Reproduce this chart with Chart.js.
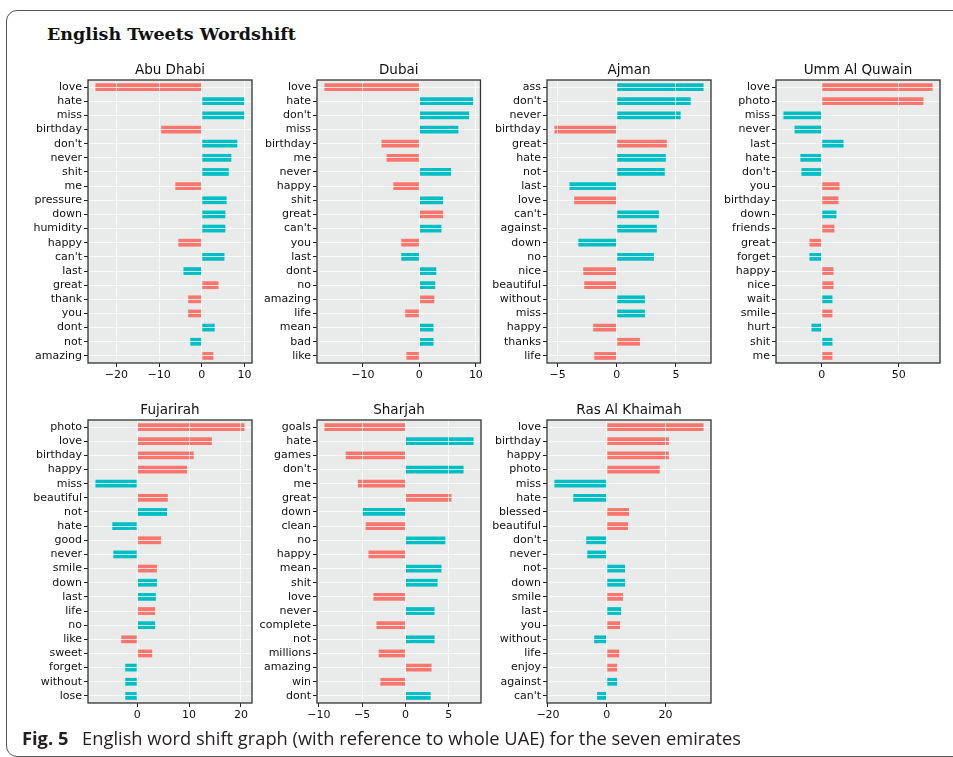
<!DOCTYPE html>
<html>
<head>
<meta charset="utf-8">
<script src="https://cdn.jsdelivr.net/npm/chart.js@4.4.0/dist/chart.umd.min.js"></script>
<style>
  body { margin: 0; width: 953px; height: 757px; background: #fff; position: relative; overflow: hidden; }
  #frame { position: absolute; left: 6px; top: 10px; width: 1000px; height: 745px; border: 1.5px solid #555; border-radius: 11px; }
  #heading { position: absolute; left: 47px; top: 26px; font: bold 17.5px "DejaVu Serif"; line-height: 1; color: #111; white-space: nowrap; }
  #caption { position: absolute; left: 22px; top: 728.5px; font: 18.3px "Open Sans"; line-height: 1; color: #231f20; white-space: nowrap; }
  #caption b { margin-right: 9px; }
  canvas { position: absolute; }
  #c1 { left: 8px; top: 50px; }
  #c2 { left: 237px; top: 50px; }
  #c3 { left: 467px; top: 50px; }
  #c4 { left: 696px; top: 50px; }
  #c5 { left: 8px; top: 390px; }
  #c6 { left: 237px; top: 390px; }
  #c7 { left: 467px; top: 390px; }
</style>
</head>
<body>
<div id="frame"></div>
<div id="heading">English Tweets Wordshift</div>
<canvas id="c1" width="248" height="338"></canvas>
<canvas id="c2" width="248" height="338"></canvas>
<canvas id="c3" width="248" height="338"></canvas>
<canvas id="c4" width="248" height="338"></canvas>
<canvas id="c5" width="248" height="338"></canvas>
<canvas id="c6" width="248" height="338"></canvas>
<canvas id="c7" width="248" height="338"></canvas>
<div id="caption"><b>Fig. 5</b> English word shift graph (with reference to whole UAE) for the seven emirates</div>
<script>
// word contributions per emirate; pos = 1 for positive words (red), 0 for negative (teal)
const abuDhabiWords = ['love', 'hate', 'miss', 'birthday', "don't", 'never', 'shit', 'me', 'pressure', 'down', 'humidity', 'happy', "can't", 'last', 'great', 'thank', 'you', 'dont', 'not', 'amazing'];
const abuDhabiShift = [-24.9, 10.0, 10.0, -9.5, 8.3, 6.9, 6.3, -6.2, 5.8, 5.5, 5.5, -5.5, 5.3, -4.3, 3.9, -3.2, -3.2, 3.0, -2.7, 2.7];
const abuDhabiPos = [1, 0, 0, 1, 0, 0, 0, 1, 0, 0, 0, 1, 0, 0, 1, 1, 1, 0, 0, 1];
const abuDhabiTicks = [-20, -10, 0, 10];

const dubaiWords = ['love', 'hate', "don't", 'miss', 'birthday', 'me', 'never', 'happy', 'shit', 'great', "can't", 'you', 'last', 'dont', 'no', 'amazing', 'life', 'mean', 'bad', 'like'];
const dubaiShift = [-16.8, 9.5, 8.8, 6.9, -6.7, -5.8, 5.6, -4.6, 4.2, 4.2, 3.9, -3.2, -3.2, 3.0, 2.8, 2.65, -2.5, 2.5, 2.5, -2.3];
const dubaiPos = [1, 0, 0, 0, 1, 1, 0, 1, 0, 1, 0, 1, 0, 0, 0, 1, 1, 0, 0, 1];
const dubaiTicks = [-10, 0, 10];

const ajmanWords = ['ass', "don't", 'never', 'birthday', 'great', 'hate', 'not', 'last', 'love', "can't", 'against', 'down', 'no', 'nice', 'beautiful', 'without', 'miss', 'happy', 'thanks', 'life'];
const ajmanShift = [7.34, 6.25, 5.4, -5.27, 4.23, 4.15, 4.06, -4.0, -3.6, 3.56, 3.39, -3.25, 3.14, -2.83, -2.75, 2.38, 2.38, -1.99, 1.96, -1.9];
const ajmanPos = [0, 0, 0, 1, 1, 0, 0, 0, 1, 0, 0, 0, 0, 1, 1, 0, 0, 1, 1, 1];
const ajmanTicks = [-5, 0, 5];

const ummAlQuwainWords = ['love', 'photo', 'miss', 'never', 'last', 'hate', "don't", 'you', 'birthday', 'down', 'friends', 'great', 'forget', 'happy', 'nice', 'wait', 'smile', 'hurt', 'shit', 'me'];
const ummAlQuwainShift = [71.9, 66.0, -24.9, -17.7, 14.1, -13.9, -13.2, 11.5, 10.8, 9.5, 8.2, -8.0, -8.0, 7.6, 7.6, 6.9, 6.9, -6.7, 6.9, 6.9];
const ummAlQuwainPos = [1, 1, 0, 0, 0, 0, 0, 1, 1, 0, 1, 1, 0, 1, 1, 0, 1, 0, 0, 1];
const ummAlQuwainTicks = [0, 50];

const fujairahWords = ['photo', 'love', 'birthday', 'happy', 'miss', 'beautiful', 'not', 'hate', 'good', 'never', 'smile', 'down', 'last', 'life', 'no', 'like', 'sweet', 'forget', 'without', 'lose'];
const fujairahShift = [20.7, 14.4, 10.9, 9.6, -8.05, 5.9, 5.75, -4.8, 4.6, -4.6, 3.8, 3.8, 3.6, 3.45, 3.45, -3.07, 2.9, -2.3, -2.3, -2.3];
const fujairahPos = [1, 1, 1, 1, 0, 1, 0, 0, 1, 0, 1, 0, 0, 1, 0, 1, 1, 0, 0, 0];
const fujairahTicks = [0, 10, 20];

const sharjahWords = ['goals', 'hate', 'games', "don't", 'me', 'great', 'down', 'clean', 'no', 'happy', 'mean', 'shit', 'love', 'never', 'complete', 'not', 'millions', 'amazing', 'win', 'dont'];
const sharjahShift = [-9.35, 7.85, -6.9, 6.7, -5.5, 5.3, -4.96, -4.6, 4.6, -4.27, 4.15, 3.7, -3.7, 3.35, -3.35, 3.35, -3.1, 3.0, -2.9, 2.9];
const sharjahPos = [1, 0, 1, 0, 1, 1, 0, 1, 0, 1, 0, 0, 1, 0, 1, 0, 1, 1, 1, 0];
const sharjahTicks = [-10, -5, 0, 5];

const rasAlKhaimahWords = ['love', 'birthday', 'happy', 'photo', 'miss', 'hate', 'blessed', 'beautiful', "don't", 'never', 'not', 'down', 'smile', 'last', 'you', 'without', 'life', 'enjoy', 'against', "can't"];
const rasAlKhaimahShift = [32.9, 21.1, 21.1, 18.0, -17.8, -11.4, 7.55, 7.2, -7.0, -6.65, 6.2, 6.2, 5.5, 4.85, 4.5, -4.3, 4.2, 3.5, 3.5, -3.3];
const rasAlKhaimahPos = [1, 1, 1, 1, 0, 0, 1, 1, 0, 0, 0, 0, 1, 0, 1, 0, 1, 1, 0, 0];
const rasAlKhaimahTicks = [-20, 0, 20];

const RED = '#F8766D';
const TEAL = '#00BFC4';

// grey panel behind the bars and a dark frame round the plot area
const panelPlugin = {
  id: 'panel',
  beforeDraw(chart) {
    const a = chart.chartArea;
    const ctx = chart.ctx;
    ctx.save();
    ctx.fillStyle = '#E9EBEB';
    ctx.fillRect(a.left, a.top, a.right - a.left, a.bottom - a.top);
    ctx.restore();
  },
  afterDraw(chart) {
    const a = chart.chartArea;
    const ctx = chart.ctx;
    ctx.save();
    ctx.strokeStyle = '#333';
    ctx.lineWidth = 1.3;
    ctx.strokeRect(a.left, a.top, a.right - a.left, a.bottom - a.top);
    ctx.restore();
  }
};

function minusSign(v) {
  return v < 0 ? '\u2212' + Math.abs(v) : String(v);
}

function drawPanel(canvasId, name, words, shift, pos, ticks) {
  // autoscale like matplotlib: include the bar base and pad 5% each side
  const lo = Math.min(0, ...shift);
  const hi = Math.max(0, ...shift);
  const pad = (hi - lo) * 0.05;
  const tickFont = { family: 'DejaVu Sans', size: 11 };
  // grid sits above the bars (z > 0), so white lines run through them
  const grid = {
    z: 1,
    color: 'rgba(255,255,255,0.75)',
    lineWidth: 1,
    tickColor: '#222',
    tickLength: 4
  };
  return new Chart(document.getElementById(canvasId), {
    type: 'bar',
    data: {
      labels: words,
      datasets: [{
        data: shift,
        backgroundColor: pos.map(p => p ? RED : TEAL),
        borderWidth: 0,
        barPercentage: 0.55,
        categoryPercentage: 1
      }]
    },
    options: {
      indexAxis: 'y',
      responsive: false,
      animation: false,
      devicePixelRatio: 1,
      layout: { padding: { left: 0, right: 4, top: 0, bottom: 0 } },
      scales: {
        x: {
          type: 'linear',
          min: lo - pad,
          max: hi + pad,
          grid: grid,
          border: { display: false },
          afterBuildTicks: axis => { axis.ticks = ticks.map(v => ({ value: v })); },
          afterFit: axis => { axis.height = 25; },
          ticks: {
            font: tickFont,
            color: '#111',
            padding: 2,
            maxRotation: 0,
            autoSkip: false,
            callback: v => minusSign(v)
          }
        },
        y: {
          type: 'category',
          offset: true,
          grid: Object.assign({}, grid, { offset: false }),
          border: { display: false },
          afterFit: axis => { axis.width = 80; },
          ticks: {
            font: tickFont,
            color: '#111',
            padding: 2,
            autoSkip: false
          }
        }
      },
      plugins: {
        legend: { display: false },
        tooltip: { enabled: false },
        title: {
          display: true,
          fullSize: false,
          text: name,
          color: '#111',
          font: { family: 'DejaVu Sans', size: 13.5, weight: 'normal', lineHeight: 1 },
          padding: { top: 13.75, bottom: 2.75 }
        }
      }
    },
    plugins: [panelPlugin]
  });
}

drawPanel('c1', 'Abu Dhabi', abuDhabiWords, abuDhabiShift, abuDhabiPos, abuDhabiTicks);
drawPanel('c2', 'Dubai', dubaiWords, dubaiShift, dubaiPos, dubaiTicks);
drawPanel('c3', 'Ajman', ajmanWords, ajmanShift, ajmanPos, ajmanTicks);
drawPanel('c4', 'Umm Al Quwain', ummAlQuwainWords, ummAlQuwainShift, ummAlQuwainPos, ummAlQuwainTicks);
drawPanel('c5', 'Fujarirah', fujairahWords, fujairahShift, fujairahPos, fujairahTicks);
drawPanel('c6', 'Sharjah', sharjahWords, sharjahShift, sharjahPos, sharjahTicks);
drawPanel('c7', 'Ras Al Khaimah', rasAlKhaimahWords, rasAlKhaimahShift, rasAlKhaimahPos, rasAlKhaimahTicks);
</script>
</body>
</html>
